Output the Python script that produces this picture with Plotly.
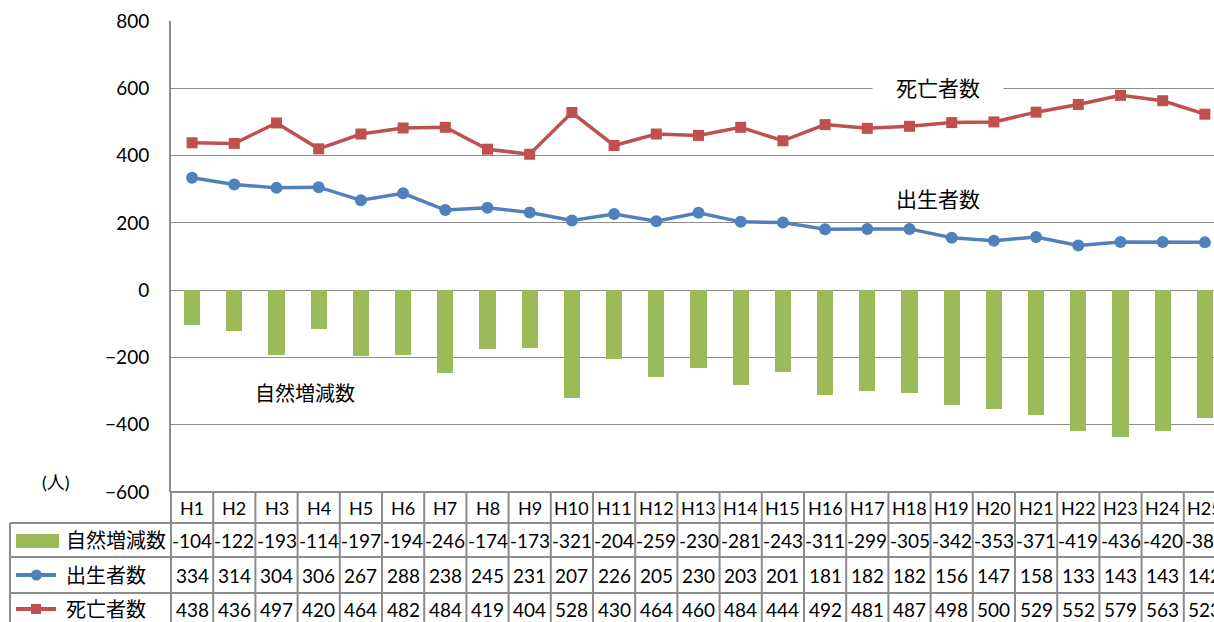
import plotly.graph_objects as go

categories = ["H1","H2","H3","H4","H5","H6","H7","H8","H9","H10","H11","H12","H13",
              "H14","H15","H16","H17","H18","H19","H20","H21","H22","H23","H24","H25"]
natural_change = [-104,-122,-193,-114,-197,-194,-246,-174,-173,-321,-204,-259,-230,
                  -281,-243,-311,-299,-305,-342,-353,-371,-419,-436,-420,-381]
births = [334,314,304,306,267,288,238,245,231,207,226,205,230,
          203,201,181,182,182,156,147,158,133,143,143,142]
deaths = [438,436,497,420,464,482,484,419,404,528,430,464,460,
          484,444,492,481,487,498,500,529,552,579,563,523]

series_names = ["自然増減数", "出生者数", "死亡者数"]
GREEN, BLUE, RED = "#9BBB59", "#4F81BD", "#C0504D"
GRID = "#8C8C8C"
FONT = "Lato, 'Noto Sans CJK JP', sans-serif"

W, H = 1214, 622
VIEW_L, VIEW_T, VIEW_B = 171, 21, 492
ML, MT = VIEW_L, VIEW_T
MB = H - VIEW_B
PW, PH = W - ML, H - MT - MB


def py(y):  # pixel y -> paper y
    return (VIEW_B - y) / PH


def px(x):  # pixel x -> paper x
    return (x - VIEW_L) / PW


n = len(categories)
idx = list(range(n))
cat_w = 42.2
x_end = -0.5 + PW / cat_w

fig = go.Figure()
fig.add_trace(go.Bar(x=idx, y=natural_change, name=series_names[0],
                     marker=dict(color=GREEN, line=dict(width=0)), width=0.38))
fig.add_trace(go.Scatter(x=idx, y=births, name=series_names[1], mode="lines+markers",
                         line=dict(color=BLUE, width=3.5),
                         marker=dict(symbol="circle", size=12, color=BLUE)))
fig.add_trace(go.Scatter(x=idx, y=deaths, name=series_names[2], mode="lines+markers",
                         line=dict(color=RED, width=3.5),
                         marker=dict(symbol="square", size=11, color=RED)))

shapes = []
annotations = []

row_tops = [492, 523, 557, 593]
shapes.append(dict(type="line", xref="paper", yref="paper", x0=0, x1=1.02,
                   y0=py(row_tops[0]), y1=py(row_tops[0]), line=dict(color=GRID, width=2)))
for yy in row_tops[1:]:
    shapes.append(dict(type="line", xref="paper", yref="paper", x0=px(10), x1=1.02,
                       y0=py(yy), y1=py(yy), line=dict(color=GRID, width=2)))
shapes.append(dict(type="line", xref="paper", yref="paper", x0=px(10), x1=px(10),
                   y0=py(523), y1=py(640), line=dict(color=GRID, width=2)))
shapes.append(dict(type="line", xref="paper", yref="paper", x0=0, x1=0,
                   y0=py(492), y1=py(640), line=dict(color=GRID, width=2)))
for i in range(n):
    shapes.append(dict(type="line", xref="x", yref="paper", x0=i + 0.5, x1=i + 0.5,
                       y0=py(492), y1=py(640), line=dict(color=GRID, width=2)))

row_centers = [508, 540, 575, 609]
for i, c in enumerate(categories):
    annotations.append(dict(x=i, y=py(row_centers[0]), xref="x", yref="paper", text=c,
                            xanchor="center", yanchor="middle", showarrow=False,
                            font=dict(size=18, color="#000", family=FONT)))
    for r, vals in enumerate([natural_change, births, deaths]):
        annotations.append(dict(x=i, y=py(row_centers[r + 1]), xref="x", yref="paper",
                                text=str(vals[i]), xanchor="center", yanchor="middle",
                                showarrow=False,
                                font=dict(size=19, color="#000", family=FONT)))

shapes.append(dict(type="rect", xref="paper", yref="paper", x0=px(16), x1=px(59),
                   y0=py(548), y1=py(534), fillcolor=GREEN, line=dict(width=0)))
for r, col, sym in [(2, BLUE, "circle"), (3, RED, "square")]:
    yc = row_centers[r]
    shapes.append(dict(type="line", xref="paper", yref="paper", x0=px(16), x1=px(56),
                       y0=py(yc), y1=py(yc), line=dict(color=col, width=4)))
    if sym == "circle":
        shapes.append(dict(type="circle", xref="paper", yref="paper", x0=px(31), x1=px(42),
                           y0=py(yc + 5.5), y1=py(yc - 5.5), fillcolor=col, line=dict(width=0)))
    else:
        shapes.append(dict(type="rect", xref="paper", yref="paper", x0=px(31), x1=px(41),
                           y0=py(yc + 5), y1=py(yc - 5), fillcolor=col, line=dict(width=0)))
for r, name in enumerate(series_names):
    annotations.append(dict(x=px(64), y=py(row_centers[r + 1]), xref="paper", yref="paper",
                            xanchor="left", yanchor="middle", text=name, showarrow=False,
                            font=dict(size=20, color="#000", family=FONT)))

annotations.append(dict(x=17.68, y=603, xref="x", yref="y", text="死亡者数", showarrow=False,
                        xanchor="center", yanchor="middle", bgcolor="white", width=128, height=26,
                        font=dict(size=21, color="#000", family=FONT)))
annotations.append(dict(x=17.68, y=273, xref="x", yref="y", text="出生者数", showarrow=False,
                        xanchor="center", yanchor="middle",
                        font=dict(size=21, color="#000", family=FONT)))
annotations.append(dict(x=2.675, y=-306, xref="x", yref="y", text="自然増減数", showarrow=False,
                        xanchor="center", yanchor="middle",
                        font=dict(size=20, color="#000", family=FONT)))
annotations.append(dict(x=px(56), y=py(482), xref="paper", yref="paper", text="(人)",
                        xanchor="center", yanchor="middle", showarrow=False,
                        font=dict(size=18, color="#000", family=FONT)))

fig.update_layout(
    width=W, height=H,
    margin=dict(l=ML, r=0, t=MT, b=MB, autoexpand=False),
    plot_bgcolor="white", paper_bgcolor="white",
    showlegend=False, bargap=0,
    font=dict(family=FONT, color="#000"),
    shapes=shapes, annotations=annotations,
    xaxis=dict(range=[-0.5, x_end], showticklabels=False, showgrid=False,
               zeroline=False, showline=False, fixedrange=True, automargin=False),
    yaxis=dict(range=[-600, 800], dtick=200, tick0=0, showgrid=True, gridcolor=GRID,
               gridwidth=1.3, zeroline=False, showline=True, linecolor=GRID, linewidth=2,
               ticks="", ticklabelstandoff=16, tickfont=dict(size=19, color="#000", family=FONT),
               fixedrange=True, automargin=False),
    hovermode=False,
)

fig.write_html("out.html", config={"displayModeBar": False},
               post_script="document.body.style.margin='0';document.body.style.overflow='hidden';")
